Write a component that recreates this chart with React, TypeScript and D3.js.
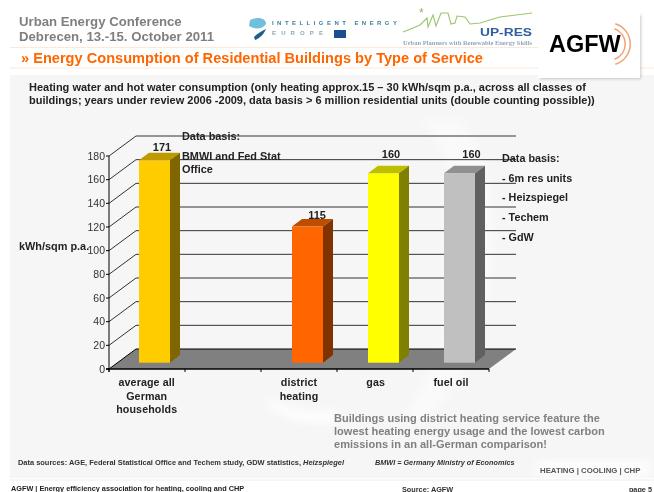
import React from "react";
import * as d3 from "d3";

const categories = ["average all|German|households", "", "district|heating", "gas", "fuel oil"];
const values: (number | null)[] = [171, null, 115, 160, 160];
const fronts = ["#ffcc00", "", "#ff6600", "#ffff00", "#c0c0c0"];
const tops = ["#bf9900", "", "#bf4d00", "#bfbf00", "#909090"];
const sides = ["#806600", "", "#803300", "#808000", "#606060"];
const ticks = d3.range(0, 181, 20);
const rightNotes = ["Data basis:", "- 6m res units", "- Heizspiegel", "- Techem", "- GdW"];
const leftNotes = ["Data basis:", "BMWI and Fed Stat", "Office"];
const barOffsets = [30, 0, 31, 31, 31];
const labelDx = [23, 0, 25, 23, 27.5];
const labelDy = [9, 0, 7.5, 15, 15.5];
const catX = [146.7, 0, 299, 375.7, 451];
const F = "'Liberation Sans', Arial, sans-serif";

const W = 654, H = 492;
const x = d3.scaleBand<number>().domain(d3.range(5)).range([109, 489]);
const y = d3.scaleLinear().domain([0, 180]).range([369, 156]);
const DX = 27, DY = -20;
const BW = 31, BDX = 10, BDY = -7.7, BBASE = -6.3;

const T = (p: any) => <text fontFamily={F} {...p} />;

export default function App() {
  const poly = (pts: number[][]) => d3.line()(pts as any) + "Z";
  const arcA = d3.arc()({ innerRadius: 20.5, outerRadius: 22, startAngle: 0.3, endAngle: Math.PI - 0.3 } as any)!;
  const arcB = d3.arc()({ innerRadius: 15.5, outerRadius: 17, startAngle: 0.35, endAngle: Math.PI - 0.35 } as any)!;
  return (
    <svg width={W} height={H} viewBox={`0 0 ${W} ${H}`} style={{ position: "absolute", left: 0, top: 0 }}>
      <defs>
        <filter id="soft"><feGaussianBlur stdDeviation="0.35" /></filter>
        <filter id="soft2"><feGaussianBlur stdDeviation="0.6" /></filter>
        <filter id="shadow"><feGaussianBlur stdDeviation="1.5" /></filter>
        <filter id="swoosh"><feGaussianBlur stdDeviation="4" /></filter>
      </defs>
      <rect width={W} height={H} fill="#fff" />
      <rect x={10} y={75} width={644} height={403} fill="#f6f6f6" />
      <path d="M420 120 C470 170 490 300 400 420 L430 420 C520 300 500 170 460 120Z" fill="#fff" opacity={0.45} filter="url(#swoosh)" />
      <path d="M262 396 C290 410 310 415 335 410 L340 420 C300 428 275 415 262 396Z" fill="#fff" opacity={0.9} filter="url(#swoosh)" />
      <rect x={537} y={460} width={113} height={16} fill="#fff" opacity={0.8} filter="url(#swoosh)" />

      {/* header */}
      <g filter="url(#soft)">
        <T x={19} y={26} fontSize={13.2} fontWeight={700} fill="#7f7f7f">Urban Energy Conference</T>
        <T x={19} y={40.5} fontSize={13.2} fontWeight={700} fill="#7f7f7f">Debrecen, 13.-15. October 2011</T>
        <T x={21} y={63} fontSize={14.6} fontWeight={700} fill="#ff6600">» Energy Consumption of Residential Buildings by Type of Service</T>
        <T x={29} y={91} fontSize={11} fontWeight={700} fill="#222">Heating water and hot water consumption (only heating approx.15 – 30 kWh/sqm p.a., across all classes of</T>
        <T x={29} y={104} fontSize={11} fontWeight={700} fill="#222">buildings; years under review 2006 -2009, data basis &gt; 6 million residential units (double counting possible))</T>
      </g>
      <line x1={10} x2={540} y1={47.5} y2={47.5} stroke="#fde8dc" />
      <line x1={10} x2={654} y1={68} y2={68} stroke="#fde8dc" />

      {/* logos */}
      <g filter="url(#soft)">
        <path d="M250 20 C258 16 266 18 266 24 C262 30 254 29 249 26Z" fill="#6fc0dc" />
        <path d="M254 37 C258 33 262 31 266 29 C264 34 260 38 255 40Z" fill="#1f5f8f" />
        <T x={272} y={25} fontSize={6} fontWeight={700} textLength={125} fill="#3f7f9f">INTELLIGENT ENERGY</T>
        <T x={272} y={35} fontSize={6} fontWeight={700} textLength={51} fill="#8fa8b8">EUROPE</T>
        <rect x={334} y={30} width={12} height={8} fill="#1f4f8f" />
        <path d="M403 32 L413 28 L420 25 L427 18 L428 27 L433 15 L436 26 L441 13 L448 13 L451 24 L455 23 L457 16 L465 17 L470 24 L480 23 L500 17 L532 13" fill="none" stroke="#9cc56c" strokeWidth={1.1} />
        <T x={419} y={17} fontSize={12} fill="#8fb85f">*</T>
        <T x={480} y={35.7} fontSize={11.6} fontWeight={700} textLength={52} lengthAdjust="spacingAndGlyphs" fill="#2f5f9f">UP-RES</T>
        <T x={403} y={45} fontFamily="'Liberation Serif', serif" fontSize={5.6} fontWeight={700} textLength={129} lengthAdjust="spacingAndGlyphs" fill="#8fa8bf">Urban Planners with Renewable Energy Skills</T>
      </g>
      <rect x={540} y={15} width={101} height={64} fill="#888" opacity={0.45} filter="url(#shadow)" />
      <rect x={538} y={13} width={102} height={65} fill="#fff" />
      <g filter="url(#soft)" transform="translate(609,44)">
        <path d={arcA} fill="#f2a273" />
        <path d={arcB} fill="#f2a273" />
      </g>
      <T x={549} y={52} fontSize={23.5} fontWeight={700} fill="#000" filter="url(#soft)">AGFW</T>

      {/* chart */}
      <path d={poly([[109, y(0)], [489, y(0)], [489 + DX, y(0) + DY], [109 + DX, y(0) + DY]])} fill="#808080" />
      <line x1={109} x2={109 + DX} y1={y(0)} y2={y(0) + DY} stroke="#000" />
      <line x1={109 + DX} x2={489 + DX} y1={y(0) + DY} y2={y(0) + DY} stroke="#000" />
      {ticks.filter(t => t > 0).map(t => (
        <path key={t} d={`M109 ${y(t)} L${109 + DX} ${y(t) + DY} L${489 + DX} ${y(t) + DY}`} fill="none" stroke="#333" strokeWidth={1} />
      ))}
      {values.map((v, i) => {
        if (v == null) return null;
        const x0 = x(i)! + barOffsets[i], x1 = x0 + BW;
        const b = y(0) + BBASE, t = b - (y(0) - y(v));
        return (
          <g key={i}>
            <rect x={x0} y={t} width={BW} height={b - t} fill={fronts[i]} />
            <path d={poly([[x0, t], [x1, t], [x1 + BDX, t + BDY], [x0 + BDX, t + BDY]])} fill={tops[i]} />
            <path d={poly([[x1, t], [x1 + BDX, t + BDY], [x1 + BDX, b + BDY], [x1, b]])} fill={sides[i]} />
            <T x={x0 + labelDx[i]} y={t - labelDy[i]} textAnchor="middle" fontSize={11} fontWeight={700} fill="#222" filter="url(#soft)">{v}</T>
          </g>
        );
      })}
      {/* axes */}
      <line x1={109} x2={109} y1={y(180)} y2={y(0) + 3} stroke="#000" />
      <line x1={106} x2={489} y1={y(0)} y2={y(0)} stroke="#000" strokeWidth={1.3} />
      {ticks.map(t => (
        <g key={t}>
          <line x1={106} x2={109} y1={y(t)} y2={y(t)} stroke="#000" />
          <T x={105} y={y(t) + 3.8} textAnchor="end" fontSize={10.5} fill="#333" filter="url(#soft)">{t}</T>
        </g>
      ))}
      {d3.range(6).map(i => {
        const px = 109 + i * x.bandwidth();
        return <line key={i} x1={px} x2={px} y1={y(0)} y2={y(0) + 3} stroke="#000" />;
      })}
      <g filter="url(#soft)">
        {categories.map((c, i) => c.split("|").map((s, j) => (
          <T key={i + "-" + j} x={catX[i]} y={386 + j * 13.5} textAnchor="middle" fontSize={10.7} fontWeight={700} letterSpacing={0.1} fill="#222">{s}</T>
        )))}
        <T x={19} y={250} fontSize={10.9} fontWeight={700} fill="#222">kWh/sqm p.a.</T>
        {leftNotes.map((s, i) => (
          <T key={s} x={182} y={[139.7, 159.7, 172.7][i]} fontSize={10.9} fontWeight={700} fill="#222">{s}</T>
        ))}
        {rightNotes.map((s, i) => (
          <T key={s} x={502} y={162 + i * 19.7} fontSize={10.8} fontWeight={700} fill="#222">{s}</T>
        ))}
        {["Buildings using district heating service feature the", "lowest heating energy usage and the lowest carbon", "emissions in an all-German comparison!"].map((s, i) => (
          <T key={s} x={334} y={421.5 + i * 13.2} fontSize={11.05} fontWeight={700} fill="#808080">{s}</T>
        ))}
        <T x={18} y={464.5} fontSize={7.45} fontWeight={700} fill="#333">Data sources: AGE, Federal Statistical Office and Techem study, GDW statistics, <tspan fontStyle="italic">Heizspiegel</tspan></T>
        <T x={375} y={465} fontSize={7.27} fontWeight={700} fontStyle="italic" fill="#333">BMWI = Germany Ministry of Economics</T>
        <T x={11} y={490.7} fontSize={7.3} fontWeight={700} fill="#222">AGFW | Energy efficiency association for heating, cooling and CHP</T>
        <T x={402} y={491.5} fontSize={7.3} fontWeight={700} fill="#333">Source: AGFW</T>
        <T x={652} y={491.5} textAnchor="end" fontSize={7.3} fontWeight={700} fill="#333">page 5</T>
      </g>
      <T x={540} y={473} fontSize={7.8} fontWeight={700} fill="#555" filter="url(#soft2)">HEATING | COOLING | CHP</T>
      <line x1={10} x2={654} y1={480} y2={480} stroke="#fde8dc" />
    </svg>
  );
}
